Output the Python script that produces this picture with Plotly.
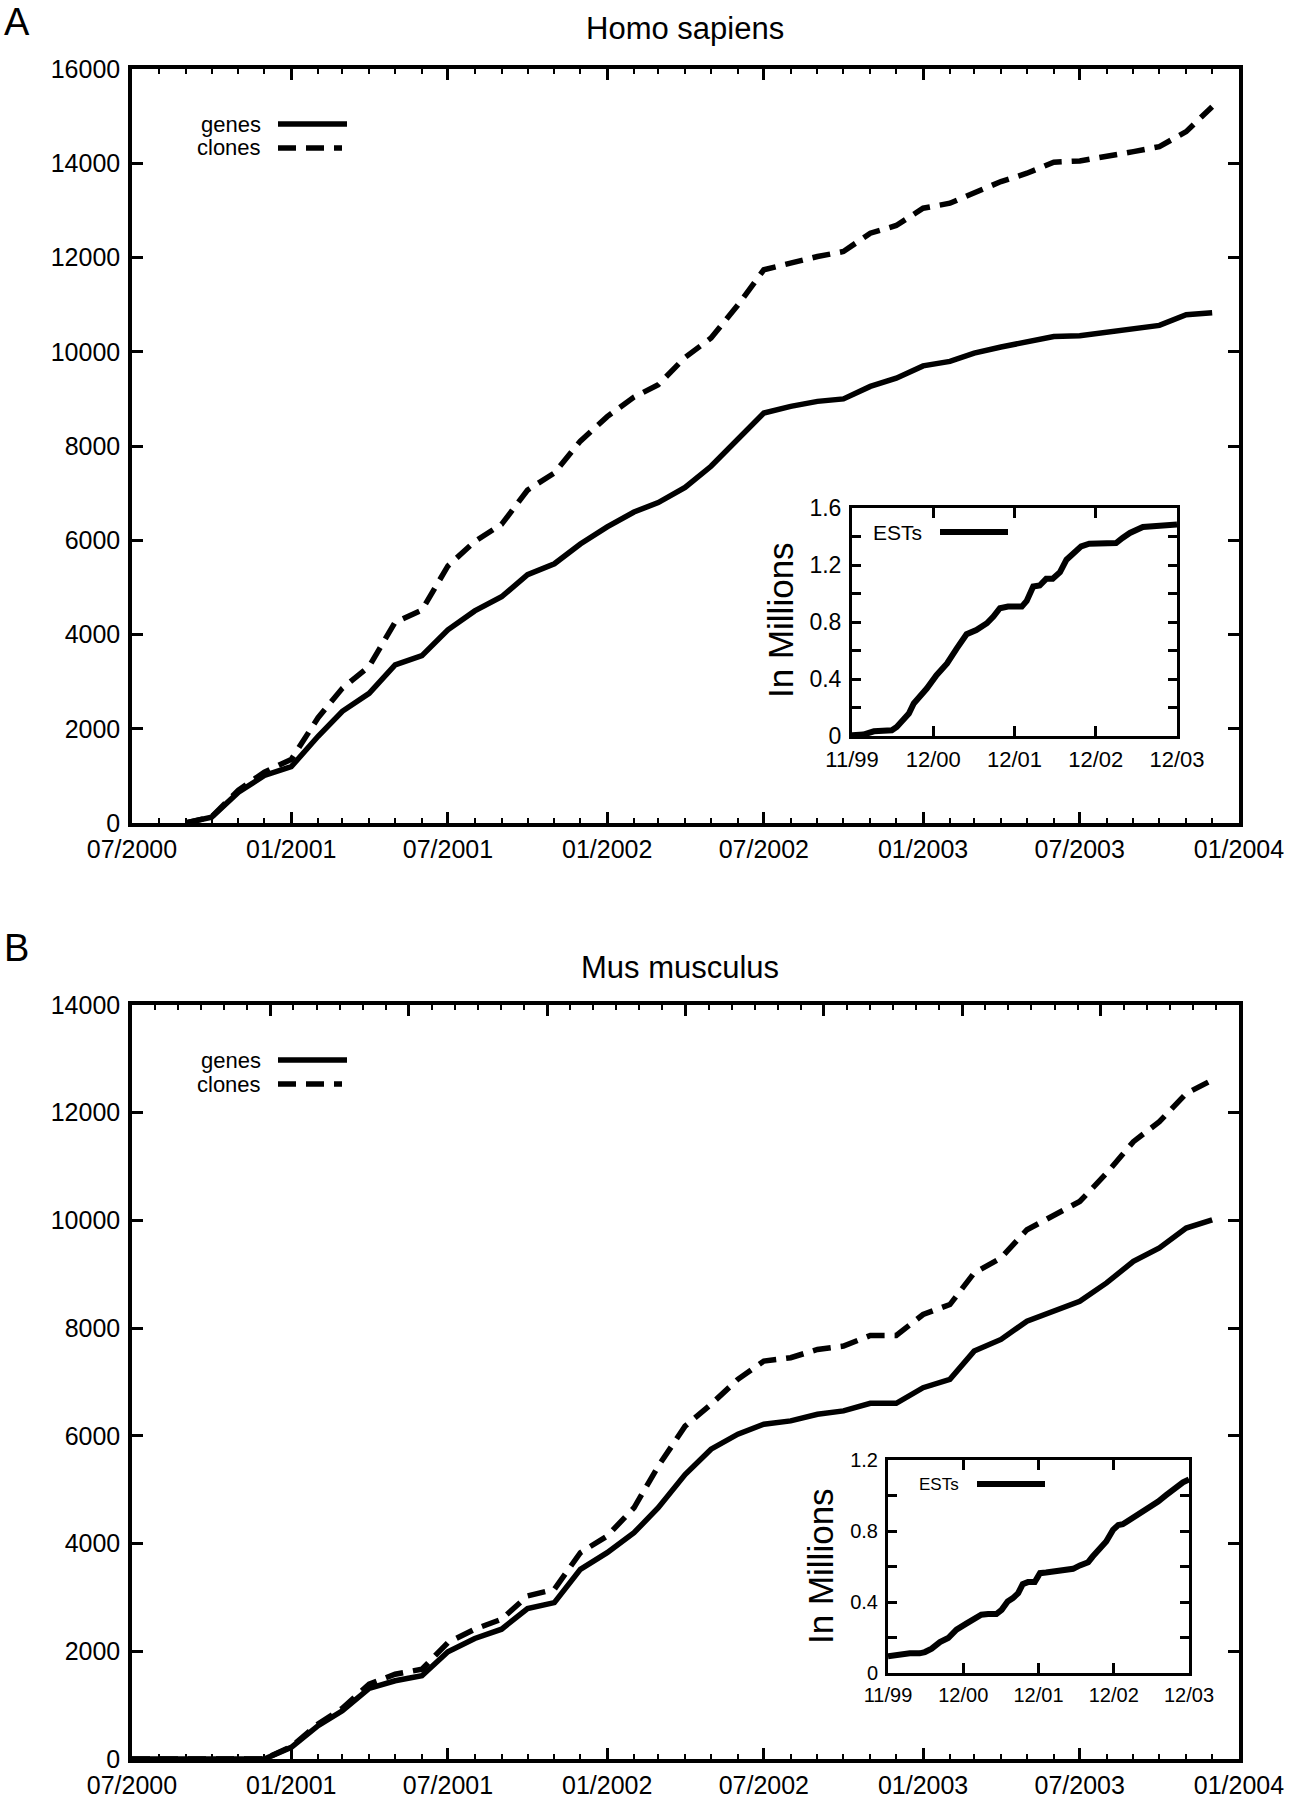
import pandas as pd
import plotly.graph_objs as go

W, H = 1295, 1800
FONT = 'Liberation Sans, Arial, Helvetica, sans-serif'

# monthly counts
human_months = pd.date_range('2000-09-01', '2003-12-01', freq='MS')
human_genes = [0, 125, 655, 1008, 1195, 1840, 2370, 2750, 3355, 3550,
               4100, 4500, 4800, 5270, 5500, 5920, 6285, 6600, 6800, 7120,
               7570, 8134, 8700, 8840, 8947, 9000, 9265, 9440, 9700, 9795,
               9970, 10100, 10200, 10325, 10340, 10410, 10480, 10560, 10785, 10830]
human_clones = [0, 130, 700, 1080, 1350, 2234, 2857, 3325, 4260, 4520,
                5455, 5974, 6338, 7065, 7428, 8104, 8623, 9039, 9299, 9880,
                10290, 10990, 11740, 11894, 12021, 12127, 12516, 12679, 13046, 13152,
                13364, 13611, 13788, 14021, 14049, 14141, 14247, 14353, 14671, 15201]

mouse_months = pd.date_range('2000-07-01', '2003-12-01', freq='MS')
mouse_genes = [0, 0, 0, 0, 0, 0, 216, 618, 896, 1310,
               1452, 1545, 1990, 2237, 2410, 2793, 2904, 3522, 3831, 4201,
               4665, 5282, 5753, 6031, 6216, 6278, 6401, 6463, 6605, 6605,
               6895, 7049, 7574, 7790, 8130, 8315, 8500, 8840, 9241, 9488,
               9858, 10012]
mouse_clones = [0, 0, 0, 0, 0, 0, 230, 650, 940, 1390,
                1575, 1668, 2162, 2410, 2595, 3027, 3151, 3831, 4140, 4665,
                5437, 6179, 6586, 7049, 7389, 7451, 7605, 7667, 7864, 7864,
                8253, 8438, 9025, 9302, 9827, 10086, 10352, 10877, 11463, 11833,
                12358, 12605]

# inset EST curves (x in label steps, 0 = 11/99 ... 4 = 12/03), millions
est_ticks = ['11/99', '12/00', '12/01', '12/02', '12/03']
human_est_x = [0, 0.14, 0.27, 0.49, 0.55, 0.63, 0.70, 0.76, 0.84, 0.92,
               1.04, 1.17, 1.29, 1.41, 1.53, 1.66, 1.74, 1.82, 1.92, 2.09,
               2.15, 2.23, 2.31, 2.39, 2.47, 2.56, 2.64, 2.74, 2.82, 2.92,
               3.25, 3.33, 3.42, 3.58, 3.78, 4.0]
human_est_y = [0.005, 0.01, 0.033, 0.04, 0.063, 0.122, 0.157, 0.228, 0.275, 0.333,
               0.427, 0.509, 0.615, 0.714, 0.744, 0.791, 0.838, 0.897, 0.908, 0.908,
               0.948, 1.049, 1.056, 1.103, 1.103, 1.150, 1.237, 1.296, 1.331, 1.350,
               1.354, 1.390, 1.425, 1.467, 1.472, 1.484]
mouse_est_x = [0, 0.155, 0.29, 0.42, 0.49, 0.58, 0.69, 0.80, 0.91, 1.04,
               1.15, 1.24, 1.33, 1.44, 1.51, 1.59, 1.66, 1.73, 1.79, 1.86,
               1.95, 2.02, 2.10, 2.24, 2.33, 2.46, 2.55, 2.66, 2.72, 2.81,
               2.90, 2.99, 3.06, 3.12, 3.21, 3.30, 3.39, 3.48, 3.59, 3.70,
               3.81, 3.92, 4.0]
mouse_est_y = [0.094, 0.107, 0.111, 0.111, 0.118, 0.137, 0.174, 0.197, 0.244, 0.278,
               0.304, 0.328, 0.332, 0.332, 0.356, 0.403, 0.422, 0.450, 0.501, 0.512,
               0.512, 0.5625, 0.566, 0.572, 0.581, 0.587, 0.606, 0.624, 0.656, 0.703,
               0.741, 0.806, 0.834, 0.838, 0.863, 0.881, 0.909, 0.928, 0.966, 1.003,
               1.041, 1.074, 1.091]


def px(x):
    return x / W


def py(y):
    return 1 - y / H


def frame(**kw):
    d = dict(showline=True, linewidth=3.5, linecolor='black', mirror='ticks',
             showgrid=False, zeroline=False, ticks='inside', tickwidth=2.5,
             tickcolor='black', automargin=False,
             tickfont=dict(size=25, color='black'))
    d.update(kw)
    return d


def main_x(domain, anchor, **kw):
    return frame(domain=domain, anchor=anchor, type='date',
                 range=['2000-07-01', '2004-01-01'],
                 tick0='2000-07-01', dtick='M6', tickformat='%m/%Y',
                 ticklen=11, ticklabelstandoff=1,
                 minor=dict(dtick='M1', ticks='inside', ticklen=5,
                            tickwidth=2, tickcolor='black'), **kw)


def main_y(domain, anchor, top):
    return frame(domain=domain, anchor=anchor, range=[0, top], dtick=2000,
                 tickformat='d', ticklen=11, ticklabelstandoff=3)


def inset_x(domain, anchor, size):
    return frame(domain=domain, anchor=anchor, range=[0, 4],
                 tickvals=[0, 1, 2, 3, 4], ticktext=est_ticks, ticklen=10,
                 ticklabelstandoff=2, linewidth=3,
                 tickfont=dict(size=size, color='black'))


def inset_y(domain, anchor, top, size):
    vals = [round(0.2 * i, 1) for i in range(int(round(top / 0.2)) + 1)]
    text = [('0' if v == 0 else '%.1f' % v) if i % 2 == 0 else ''
            for i, v in enumerate(vals)]
    return frame(domain=domain, anchor=anchor, range=[0, top],
                 tickvals=vals, ticktext=text, ticklen=9,
                 ticklabelstandoff=3, linewidth=3,
                 tickfont=dict(size=size, color='black'))


fig = go.Figure()
solid = dict(color='black', width=5.5)
dashed = dict(color='black', width=5.5, dash='18px,10px')
est_line = dict(color='black', width=6)

fig.add_trace(go.Scatter(x=human_months, y=human_genes, mode='lines',
                         line=solid, xaxis='x', yaxis='y', name='genes'))
fig.add_trace(go.Scatter(x=human_months, y=human_clones, mode='lines',
                         line=dashed, xaxis='x', yaxis='y', name='clones'))
fig.add_trace(go.Scatter(x=human_est_x, y=human_est_y, mode='lines',
                         line=est_line, xaxis='x2', yaxis='y2', name='ESTs'))
fig.add_trace(go.Scatter(x=mouse_months, y=mouse_genes, mode='lines',
                         line=solid, xaxis='x3', yaxis='y3', name='genes'))
fig.add_trace(go.Scatter(x=mouse_months, y=mouse_clones, mode='lines',
                         line=dashed, xaxis='x3', yaxis='y3', name='clones'))
fig.add_trace(go.Scatter(x=mouse_est_x, y=mouse_est_y, mode='lines',
                         line=est_line, xaxis='x4', yaxis='y4', name='ESTs'))
# empty trace so the top tick scale of panel B gets drawn
fig.add_trace(go.Scatter(x=[], y=[], xaxis='x5', yaxis='y3', hoverinfo='skip'))

annotations = []
shapes = []


def text(x, y, s, size, xanchor='center', angle=0):
    annotations.append(dict(x=px(x), y=py(y), xref='paper', yref='paper',
                            text=s, showarrow=False, xanchor=xanchor,
                            yanchor='middle', textangle=angle, borderpad=0,
                            font=dict(size=size, color='black')))


def key(x0, x1, y, dash=None, width=5.5):
    line = dict(color='black', width=width)
    if dash:
        line['dash'] = dash
    shapes.append(dict(type='line', xref='paper', yref='paper',
                       x0=px(x0), x1=px(x1), y0=py(y), y1=py(y), line=line))


# panel A
text(17, 22, 'A', 38)
text(685, 29, 'Homo sapiens', 31)
text(262, 124, 'genes', 22, 'right')
text(262, 148, 'clones', 22, 'right')
key(278, 347, 124)
key(278, 342, 148, '18px,10px')
text(923, 532, 'ESTs', 21, 'right')
key(940, 1008, 532, width=6)
text(780, 620, 'In Millions', 35, angle=-90)

# panel B
text(16, 948, 'B', 38)
text(680, 967, 'Mus musculus', 31)
text(262, 1060, 'genes', 22, 'right')
text(262, 1084, 'clones', 22, 'right')
key(278, 347, 1060)
key(278, 342, 1084, '18px,10px')
text(960, 1484, 'ESTs', 17, 'right')
key(977, 1045, 1484, width=6)
text(820, 1566, 'In Millions', 35, angle=-90)

fig.update_layout(
    width=W, height=H,
    margin=dict(l=0, r=0, t=0, b=0, pad=0, autoexpand=False),
    paper_bgcolor='white', plot_bgcolor='white',
    font=dict(family=FONT, color='black'),
    showlegend=False,
    xaxis=main_x([px(132), px(1239)], 'y'),
    yaxis=main_y([py(823), py(69)], 'x', 16000),
    xaxis2=inset_x([px(852), px(1177)], 'y2', 22),
    yaxis2=inset_y([py(736), py(508)], 'x2', 1.6, 23),
    xaxis3=main_x([px(132), px(1239)], 'y3', mirror=True),
    yaxis3=main_y([py(1759), py(1005)], 'x3', 14000),
    xaxis4=inset_x([px(888), px(1189)], 'y4', 20),
    yaxis4=inset_y([py(1673), py(1460)], 'x4', 1.2, 20),
    # panel B has its own top tick scale: 8 major steps of 6 minor ones
    xaxis5=dict(overlaying='x3', anchor='y3', side='top', range=[0, 48],
                tick0=0, dtick=6, ticks='inside', ticklen=11, tickwidth=2.5,
                tickcolor='black', showticklabels=False, showline=False,
                showgrid=False, zeroline=False, automargin=False,
                minor=dict(dtick=1, ticks='inside', ticklen=5, tickwidth=2,
                           tickcolor='black')),
    annotations=annotations,
    shapes=shapes,
)

fig.write_html('out.html', config={'displayModeBar': False},
               post_script="document.body.style.margin = '0';")
